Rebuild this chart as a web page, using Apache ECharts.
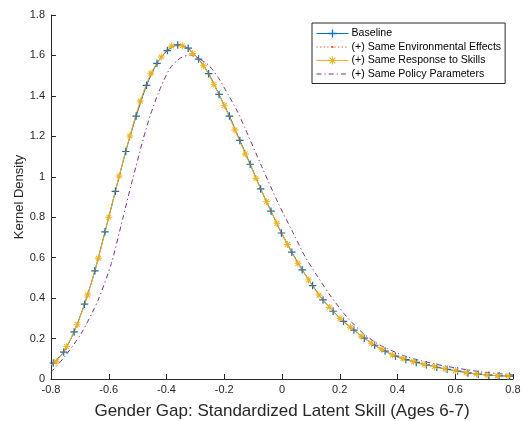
<!DOCTYPE html>
<html>
<head>
<meta charset="utf-8">
<script src="https://cdn.jsdelivr.net/npm/echarts@6/dist/echarts.min.js"></script>
<style>
  html, body { margin: 0; padding: 0; background: #fff; }
  #chart { width: 522px; height: 421px; }
</style>
</head>
<body>
<div id="chart"></div>
<script>
// Kernel density of the simulated gender gap in standardized latent skill (ages 6-7)
// under the baseline and three counterfactual scenarios.

const seriesNames = [
  'Baseline',
  '(+) Same Environmental Effects',
  '(+) Same Response to Skills',
  '(+) Same Policy Parameters'
];

// Baseline: evaluation points carrying the "+" markers
const baselineX = [
  -0.792, -0.756, -0.720, -0.684, -0.648, -0.613, -0.577, -0.541, -0.505, -0.469,
  -0.433, -0.397, -0.361, -0.325, -0.289, -0.254, -0.218, -0.182, -0.146, -0.110,
  -0.074, -0.038, -0.002, 0.034, 0.070, 0.106, 0.142, 0.177, 0.213, 0.249,
  0.285, 0.321, 0.357, 0.393, 0.429, 0.465, 0.500, 0.536, 0.572, 0.608,
  0.644, 0.680, 0.716, 0.752, 0.788
];
const baselineY = [
  0.079, 0.133, 0.233, 0.370, 0.535, 0.728, 0.928, 1.125, 1.300, 1.452,
  1.561, 1.624, 1.652, 1.636, 1.582, 1.510, 1.407, 1.300, 1.180, 1.062,
  0.940, 0.830, 0.722, 0.627, 0.540, 0.462, 0.391, 0.335, 0.285, 0.242,
  0.202, 0.167, 0.138, 0.113, 0.096, 0.082, 0.070, 0.058, 0.048, 0.039,
  0.030, 0.024, 0.019, 0.016, 0.014
];

// Same environmental effects: evaluated on the baseline points
const envX = baselineX;
const envY = [
  0.079, 0.134, 0.234, 0.371, 0.536, 0.729, 0.929, 1.126, 1.301, 1.452,
  1.560, 1.623, 1.651, 1.635, 1.582, 1.510, 1.406, 1.300, 1.180, 1.062,
  0.940, 0.830, 0.722, 0.627, 0.540, 0.462, 0.391, 0.335, 0.285, 0.242,
  0.202, 0.167, 0.138, 0.113, 0.096, 0.082, 0.070, 0.058, 0.048, 0.039,
  0.030, 0.024, 0.019, 0.016, 0.014
];

// Same response to skills: evaluation points carrying the "*" markers
const skillsX = [
  -0.782, -0.746, -0.709, -0.673, -0.636, -0.600, -0.564, -0.527, -0.491, -0.454,
  -0.418, -0.382, -0.345, -0.309, -0.272, -0.236, -0.200, -0.163, -0.127, -0.090,
  -0.054, -0.018, 0.019, 0.055, 0.092, 0.128, 0.164, 0.201, 0.237, 0.274,
  0.310, 0.346, 0.383, 0.419, 0.456, 0.492, 0.528, 0.565, 0.601, 0.638,
  0.674, 0.710, 0.747, 0.783
];
const skillsY = [
  0.085, 0.160, 0.270, 0.415, 0.597, 0.800, 1.004, 1.202, 1.375, 1.512,
  1.592, 1.647, 1.648, 1.610, 1.549, 1.457, 1.352, 1.231, 1.113, 0.993,
  0.877, 0.770, 0.665, 0.572, 0.490, 0.415, 0.355, 0.300, 0.256, 0.213,
  0.177, 0.147, 0.119, 0.102, 0.085, 0.072, 0.061, 0.050, 0.041, 0.031,
  0.025, 0.020, 0.016, 0.015
];

// Same policy parameters (no markers)
const policyX = [
  -0.800, -0.753, -0.695, -0.637, -0.591, -0.552, -0.522, -0.480, -0.457, -0.428,
  -0.388, -0.353, -0.319, -0.290, -0.255, -0.221, -0.188, -0.157, -0.128, -0.070,
  -0.013, 0.034, 0.080, 0.120, 0.166, 0.224, 0.281, 0.339, 0.432, 0.547,
  0.686, 0.800
];
const policyY = [
  0.033, 0.110, 0.226, 0.390, 0.572, 0.790, 0.962, 1.190, 1.300, 1.415,
  1.536, 1.586, 1.602, 1.586, 1.553, 1.491, 1.410, 1.330, 1.240, 1.050,
  0.869, 0.735, 0.605, 0.514, 0.415, 0.308, 0.226, 0.168, 0.110, 0.069,
  0.036, 0.020
];

// Density at both ends of the evaluation range (line only, no marker)
const edgeX = [-0.8, 0.8];
const baselineEdgeY = [0.068, 0.013];
const envEdgeY = [0.068, 0.013];
const skillsEdgeY = [0.070, 0.014];

// Axis ranges: [min, max, step]
const xAxisRange = [-0.8, 0.8, 0.2];
const yAxisRange = [0, 1.8, 0.2];

const colors = ['#0072BD', '#D95319', '#EDB120', '#7E2F8E'];
const dashes = ['solid', [1.2, 2.4], 'solid', [5, 3, 1.2, 3]];
const FONT = '"Liberation Sans", Arial, Helvetica, sans-serif';
const AXIS_COLOR = '#262626';

// Marker shapes (drawn in a 10x10 box)
const plusSymbol = 'path://M4.2,0H5.8V10H4.2Z M0,4.2H10V5.8H0Z';
const asteriskSymbol =
  'path://M4.35,0H5.65V10H4.35Z M0,4.35H10V5.65H0Z M1,2L2,1L9,8L8,9Z M8,1L9,2L2,9L1,8Z';
// small dot centred in an otherwise empty 10x10 box
const dotSymbol =
  'path://M0,0L0.01,0L0,0.01Z M10,10L9.99,10L10,9.99Z M5,3.6A1.4,1.4 0 1,1 5,6.4A1.4,1.4 0 1,1 5,3.6Z';

function buildData(xs, ys, edgeYs) {
  const data = xs.map((x, i) => [x, ys[i]]);
  if (edgeYs) {
    data.unshift({ value: [edgeX[0], edgeYs[0]], symbol: 'none' });
    data.push({ value: [edgeX[1], edgeYs[1]], symbol: 'none' });
  }
  return data;
}

function legendEntry(i) {
  return {
    name: seriesNames[i],
    itemStyle: { color: colors[i], opacity: i === 3 ? 0 : 1 },
    lineStyle: { color: colors[i], width: 1, type: dashes[i] }
  };
}

const chart = echarts.init(document.getElementById('chart'), null, { renderer: 'canvas' });

const commonLine = {
  type: 'line',
  smooth: 0.25,
  animation: false,
  emphasis: { disabled: true },
  symbolKeepAspect: true
};

chart.setOption({
  backgroundColor: '#fff',
  animation: false,
  textStyle: { fontFamily: FONT },
  grid: { left: 51, right: 9, top: 15, bottom: 42, containLabel: false, outerBoundsMode: 'none' },
  legend: {
    orient: 'vertical',
    left: 312,
    top: 23,
    padding: [5, 4, 4, 4],
    itemWidth: 32,
    itemHeight: 10,
    itemGap: 2.5,
    borderColor: '#262626',
    borderWidth: 1,
    backgroundColor: '#fff',
    textStyle: { fontFamily: FONT, fontSize: 10.6, color: '#000', padding: [0, 0, 0, -2] },
    data: [legendEntry(0), legendEntry(1), legendEntry(2), legendEntry(3)]
  },
  xAxis: {
    type: 'value',
    min: xAxisRange[0],
    max: xAxisRange[1],
    interval: xAxisRange[2],
    name: 'Gender Gap: Standardized Latent Skill (Ages 6-7)',
    nameLocation: 'middle',
    nameGap: 24,
    nameTextStyle: { fontFamily: FONT, fontSize: 17, color: AXIS_COLOR },
    axisLine: { show: true, onZero: false, lineStyle: { color: AXIS_COLOR, width: 1 } },
    axisTick: { show: true, inside: true, length: 5, lineStyle: { color: AXIS_COLOR } },
    axisLabel: { fontFamily: FONT, fontSize: 11, color: AXIS_COLOR, margin: 5 },
    splitLine: { show: false }
  },
  yAxis: {
    type: 'value',
    min: yAxisRange[0],
    max: yAxisRange[1],
    interval: yAxisRange[2],
    name: 'Kernel Density',
    nameLocation: 'middle',
    nameGap: 25.5,
    nameMoveOverlap: false,
    nameTextStyle: { fontFamily: FONT, fontSize: 13, color: AXIS_COLOR },
    axisLine: { show: true, onZero: false, lineStyle: { color: AXIS_COLOR, width: 1 } },
    axisTick: { show: true, inside: true, length: 5, lineStyle: { color: AXIS_COLOR } },
    axisLabel: { fontFamily: FONT, fontSize: 11, color: AXIS_COLOR, margin: 6 },
    splitLine: { show: false }
  },
  series: [
    Object.assign({}, commonLine, {
      name: seriesNames[0],
      data: buildData(baselineX, baselineY, baselineEdgeY),
      symbol: plusSymbol,
      symbolSize: 7.5,
      showSymbol: true,
      color: colors[0],
      itemStyle: { color: colors[0] },
      lineStyle: { color: colors[0], width: 1, type: dashes[0] }
    }),
    Object.assign({}, commonLine, {
      name: seriesNames[1],
      data: buildData(envX, envY, envEdgeY),
      symbol: dotSymbol,
      symbolSize: 8,
      showSymbol: true,
      color: colors[1],
      itemStyle: { color: colors[1] },
      lineStyle: { color: colors[1], width: 1, type: dashes[1] }
    }),
    Object.assign({}, commonLine, {
      name: seriesNames[2],
      data: buildData(skillsX, skillsY, skillsEdgeY),
      symbol: asteriskSymbol,
      symbolSize: 7,
      showSymbol: true,
      color: colors[2],
      itemStyle: { color: colors[2] },
      lineStyle: { color: colors[2], width: 1, type: dashes[2] }
    }),
    Object.assign({}, commonLine, {
      name: seriesNames[3],
      data: buildData(policyX, policyY, null),
      symbol: 'none',
      showSymbol: false,
      color: colors[3],
      itemStyle: { color: colors[3] },
      lineStyle: { color: colors[3], width: 1, type: dashes[3] }
    })
  ]
});
</script>
</body>
</html>
